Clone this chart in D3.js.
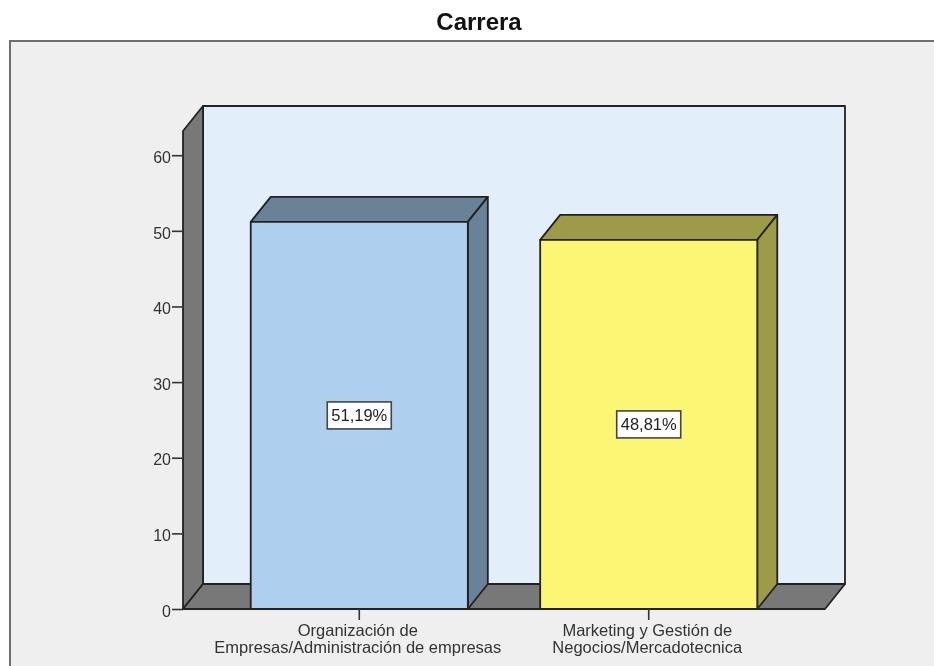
<!DOCTYPE html>
<html><head><meta charset="utf-8">
<script src="https://cdn.jsdelivr.net/npm/d3@7"></script>
<style>html,body{margin:0;padding:0;background:#fff}svg{display:block;filter:blur(0.35px)}text{font-family:"Liberation Sans",Arial,sans-serif}</style>
</head><body><svg id="c" width="934" height="666"></svg>
<script>
const titleText = "Carrera";
const categories = ["Organización de|Empresas/Administración de empresas", "Marketing y Gestión de|Negocios/Mercadotecnica"];
const values = [51.19, 48.81];
const frontColors = ["#aed0ee", "#fbf774"];
const sideColors = ["#6a8297", "#9e9b48"];
const yTicks = [0, 10, 20, 30, 40, 50, 60];
const yTop = 63.2;

const stroke = "#222";
const svg = d3.select("#c");
const W = 934, H = 666;
const plotLeft = 183, floorRight = 825, plotBottom = 609, plotTop = 131, dx = 20, dy = -25;

const x = d3.scaleBand().domain(categories).range([plotLeft, floorRight]).paddingInner(0.25).paddingOuter(0.234);
const y = d3.scaleLinear().domain([0, yTop]).range([plotBottom, plotTop]);
const poly = (pts, fill, sw = 1.8) => svg.append("polygon")
  .attr("points", pts.map(p => p.join(",")).join(" "))
  .attr("fill", fill).attr("stroke", stroke).attr("stroke-width", sw).attr("stroke-linejoin", "round");

// panel
svg.append("rect").attr("x", 10).attr("y", 41).attr("width", W + 10).attr("height", H + 10)
  .attr("fill", "#efefef").attr("stroke", "#6e6e6e").attr("stroke-width", 2);

svg.append("text").attr("x", 479).attr("y", 30).attr("text-anchor", "middle")
  .attr("font-size", 24).attr("font-weight", "bold").attr("fill", "#111").text(titleText);

// walls
poly([[plotLeft + dx, plotTop + dy], [floorRight + dx, plotTop + dy], [floorRight + dx, plotBottom + dy], [plotLeft + dx, plotBottom + dy]], "#e3eefb");
poly([[plotLeft, plotTop], [plotLeft + dx, plotTop + dy], [plotLeft + dx, plotBottom + dy], [plotLeft, plotBottom]], "#787878");
poly([[plotLeft, plotBottom], [plotLeft + dx, plotBottom + dy], [floorRight + dx, plotBottom + dy], [floorRight, plotBottom]], "#787878");

// bars
categories.forEach((c, i) => {
  const x0 = x(c), x1 = x0 + x.bandwidth(), y1 = y(values[i]);
  poly([[x0, y1], [x0 + dx, y1 + dy], [x1 + dx, y1 + dy], [x1, y1]], sideColors[i]);
  poly([[x1, y1], [x1 + dx, y1 + dy], [x1 + dx, plotBottom + dy], [x1, plotBottom]], sideColors[i]);
  poly([[x0, y1], [x1, y1], [x1, plotBottom], [x0, plotBottom]], frontColors[i]);
});

// y axis
const yAxis = svg.append("g").attr("transform", `translate(${plotLeft},0)`)
  .call(d3.axisLeft(y).tickValues(yTicks).tickSize(11).tickPadding(1).tickFormat(d3.format("d")));
yAxis.select(".domain").remove();
yAxis.selectAll("line").attr("stroke", "#333").attr("stroke-width", 1.6);
yAxis.selectAll("text").attr("font-size", 16).attr("fill", "#333").attr("dy", "0.45em").attr("font-family", '"Liberation Sans",Arial,sans-serif');

// x axis
const xAxis = svg.append("g").attr("transform", `translate(0,${plotBottom})`)
  .call(d3.axisBottom(x).tickSize(11).tickFormat(""));
xAxis.select(".domain").remove();
xAxis.selectAll("line").attr("stroke", "#333").attr("stroke-width", 1.6);
xAxis.selectAll("text").remove();
xAxis.selectAll(".tick").each(function (c) {
  c.split("|").forEach((ln, j) => d3.select(this).append("text")
    .attr("text-anchor", "middle").attr("x", -1.5).attr("y", 27 + j * 16.5).attr("font-size", 16.5)
    .attr("fill", "#333").text(ln));
});

// value labels
categories.forEach((c, i) => {
  const cx = x(c) + x.bandwidth() / 2, cy = y(values[i] / 2);
  svg.append("rect").attr("x", cx - 32).attr("y", cy - 13.5).attr("width", 64).attr("height", 27)
    .attr("fill", "#fff").attr("stroke", "#444").attr("stroke-width", 1.6);
  svg.append("text").attr("x", cx).attr("y", cy + 6).attr("text-anchor", "middle")
    .attr("font-size", 16.5).attr("fill", "#222").text(values[i].toFixed(2).replace(".", ",") + "%");
});
</script></body></html>
